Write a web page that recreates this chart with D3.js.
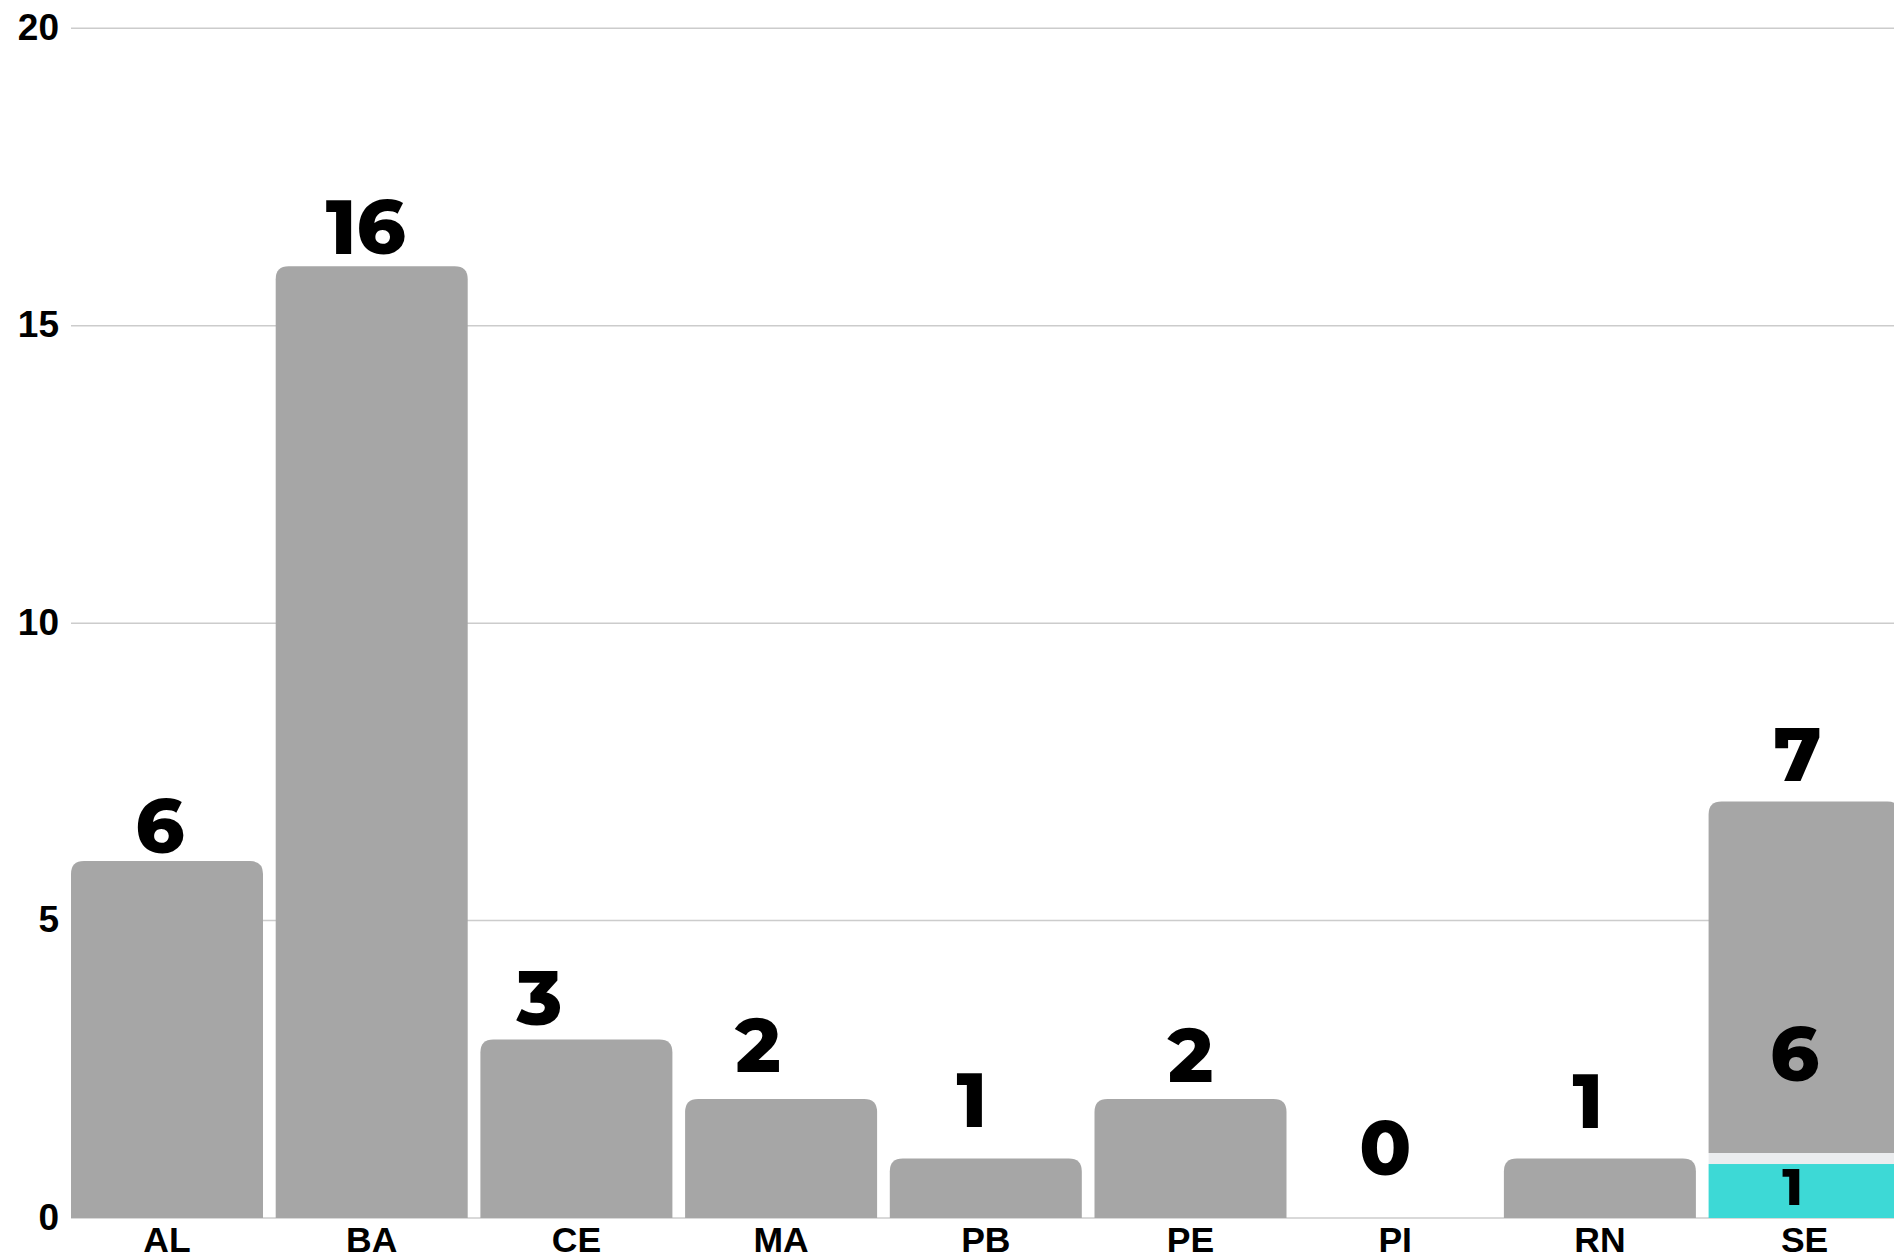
<!DOCTYPE html>
<html>
<head>
<meta charset="utf-8">
<script src="https://cdn.jsdelivr.net/npm/d3@7"></script>
<style>
  html, body { margin: 0; padding: 0; background: #fff; overflow: hidden; }
  svg { display: block; }
</style>
</head>
<body>
<svg id="chart" width="1894" height="1259"></svg>
<script>
// ---- data ----
const categories = ["AL", "BA", "CE", "MA", "PB", "PE", "PI", "RN", "SE"];
const grayValues = [6, 16, 3, 2, 1, 2, 0, 1, 6];
const tealValues = [0, 0, 0, 0, 0, 0, 0, 0, 1];
const yTicks = [0, 5, 10, 15, 20];

// ---- label layout tweaks (pixels, not data) ----
const labelShiftX = [-7, -6, -37, -23, -14, 0, -10, -12, -7];
const labelLift   = [8.5, 12.5, 14.5, 27, 31.5, 17, 43, 30.5, 21];

const W = 1894, H = 1259;
const svg = d3.select("#chart");

const x = d3.scaleBand()
  .domain(categories)
  .range([71, 1900.6])
  .paddingInner(0.062)
  .paddingOuter(0);

const y = d3.scaleLinear().domain([0, 20]).range([1218, 28.3]);

const gray = "#a6a6a6";
const teal = "#3dd9d6";
const sepColor = "#ebedef";
const valueFont = "Montserrat, Lato, 'Open Sans', sans-serif";
const axisFont = "'Liberation Sans', Arial, sans-serif";

// gridlines
const grid = svg.append("g");
grid.selectAll("line")
  .data(yTicks)
  .join("line")
  .attr("x1", 71).attr("x2", W)
  .attr("y1", d => y(d)).attr("y2", d => y(d))
  .attr("stroke", "#cccccc")
  .attr("stroke-width", 1.5);

// y axis labels
const yAxis = d3.axisLeft(y).tickValues(yTicks).tickSize(0).tickPadding(0);
const gy = svg.append("g").attr("transform", "translate(59,0)").call(yAxis);
gy.select(".domain").remove();
gy.selectAll("text")
  .attr("font-family", axisFont)
  .attr("font-weight", "bold")
  .attr("font-size", 37)
  .attr("fill", "#000")
  .attr("dy", "0.3em");

// x axis labels
const xAxis = d3.axisBottom(x).tickSize(0).tickPadding(0);
const gx = svg.append("g").attr("transform", "translate(0,1218)").call(xAxis);
gx.select(".domain").remove();
gx.selectAll("text")
  .attr("font-family", axisFont)
  .attr("font-weight", "bold")
  .attr("font-size", 35.5)
  .attr("fill", "#000")
  .attr("y", 0)
  .attr("dy", 34);

function topRounded(x0, y0, w, h, r) {
  r = Math.min(r, h, w / 2);
  if (h <= 0) return "";
  return `M${x0},${y0 + h}V${y0 + r}Q${x0},${y0} ${x0 + r},${y0}H${x0 + w - r}Q${x0 + w},${y0} ${x0 + w},${y0 + r}V${y0 + h}Z`;
}

const bw = x.bandwidth();
const rows = categories.map((c, i) => ({
  c, i, g: grayValues[i], t: tealValues[i], total: grayValues[i] + tealValues[i]
}));

const bars = svg.append("g");
const gapHalf = 5.5;

// teal segments
bars.selectAll("rect.teal")
  .data(rows.filter(d => d.t > 0))
  .join("rect")
  .attr("class", "teal")
  .attr("x", d => x(d.c))
  .attr("width", bw)
  .attr("y", d => y(d.t) + gapHalf)
  .attr("height", d => y(0) - y(d.t) - gapHalf)
  .attr("fill", teal);

// separators
bars.selectAll("rect.sep")
  .data(rows.filter(d => d.t > 0 && d.g > 0))
  .join("rect")
  .attr("class", "sep")
  .attr("x", d => x(d.c))
  .attr("width", bw)
  .attr("y", d => y(d.t) - gapHalf)
  .attr("height", gapHalf * 2)
  .attr("fill", sepColor);

// gray segments
bars.selectAll("path.gray")
  .data(rows.filter(d => d.g > 0))
  .join("path")
  .attr("class", "gray")
  .attr("d", d => {
    const top = y(d.total);
    const bottom = d.t > 0 ? y(d.t) - gapHalf : y(0);
    return topRounded(x(d.c), top, bw, bottom - top, 13);
  })
  .attr("fill", gray);

// total labels
svg.append("g").selectAll("text")
  .data(rows)
  .join("text")
  .attr("x", d => x(d.c) + bw / 2 + labelShiftX[d.i])
  .attr("y", d => y(d.total) - labelLift[d.i])
  .attr("text-anchor", "middle")
  .attr("font-family", valueFont)
  .attr("font-weight", 800)
  .attr("font-size", 76)
  .attr("fill", "#000")
  .text(d => d.total);

// segment labels for stacked bars
const stacked = rows.filter(d => d.t > 0);
svg.append("g").selectAll("text")
  .data(stacked)
  .join("text")
  .attr("x", d => x(d.c) + bw / 2 - 10)
  .attr("y", d => y(d.t) - 77.5)
  .attr("text-anchor", "middle")
  .attr("font-family", valueFont)
  .attr("font-weight", 800)
  .attr("font-size", 76)
  .attr("fill", "#000")
  .text(d => d.g);

svg.append("g").selectAll("text")
  .data(stacked)
  .join("text")
  .attr("x", d => x(d.c) + bw / 2 - 12)
  .attr("y", y(0) - 13)
  .attr("text-anchor", "middle")
  .attr("font-family", valueFont)
  .attr("font-weight", 800)
  .attr("font-size", 51)
  .attr("fill", "#000")
  .text(d => d.t);
</script>
</body>
</html>
